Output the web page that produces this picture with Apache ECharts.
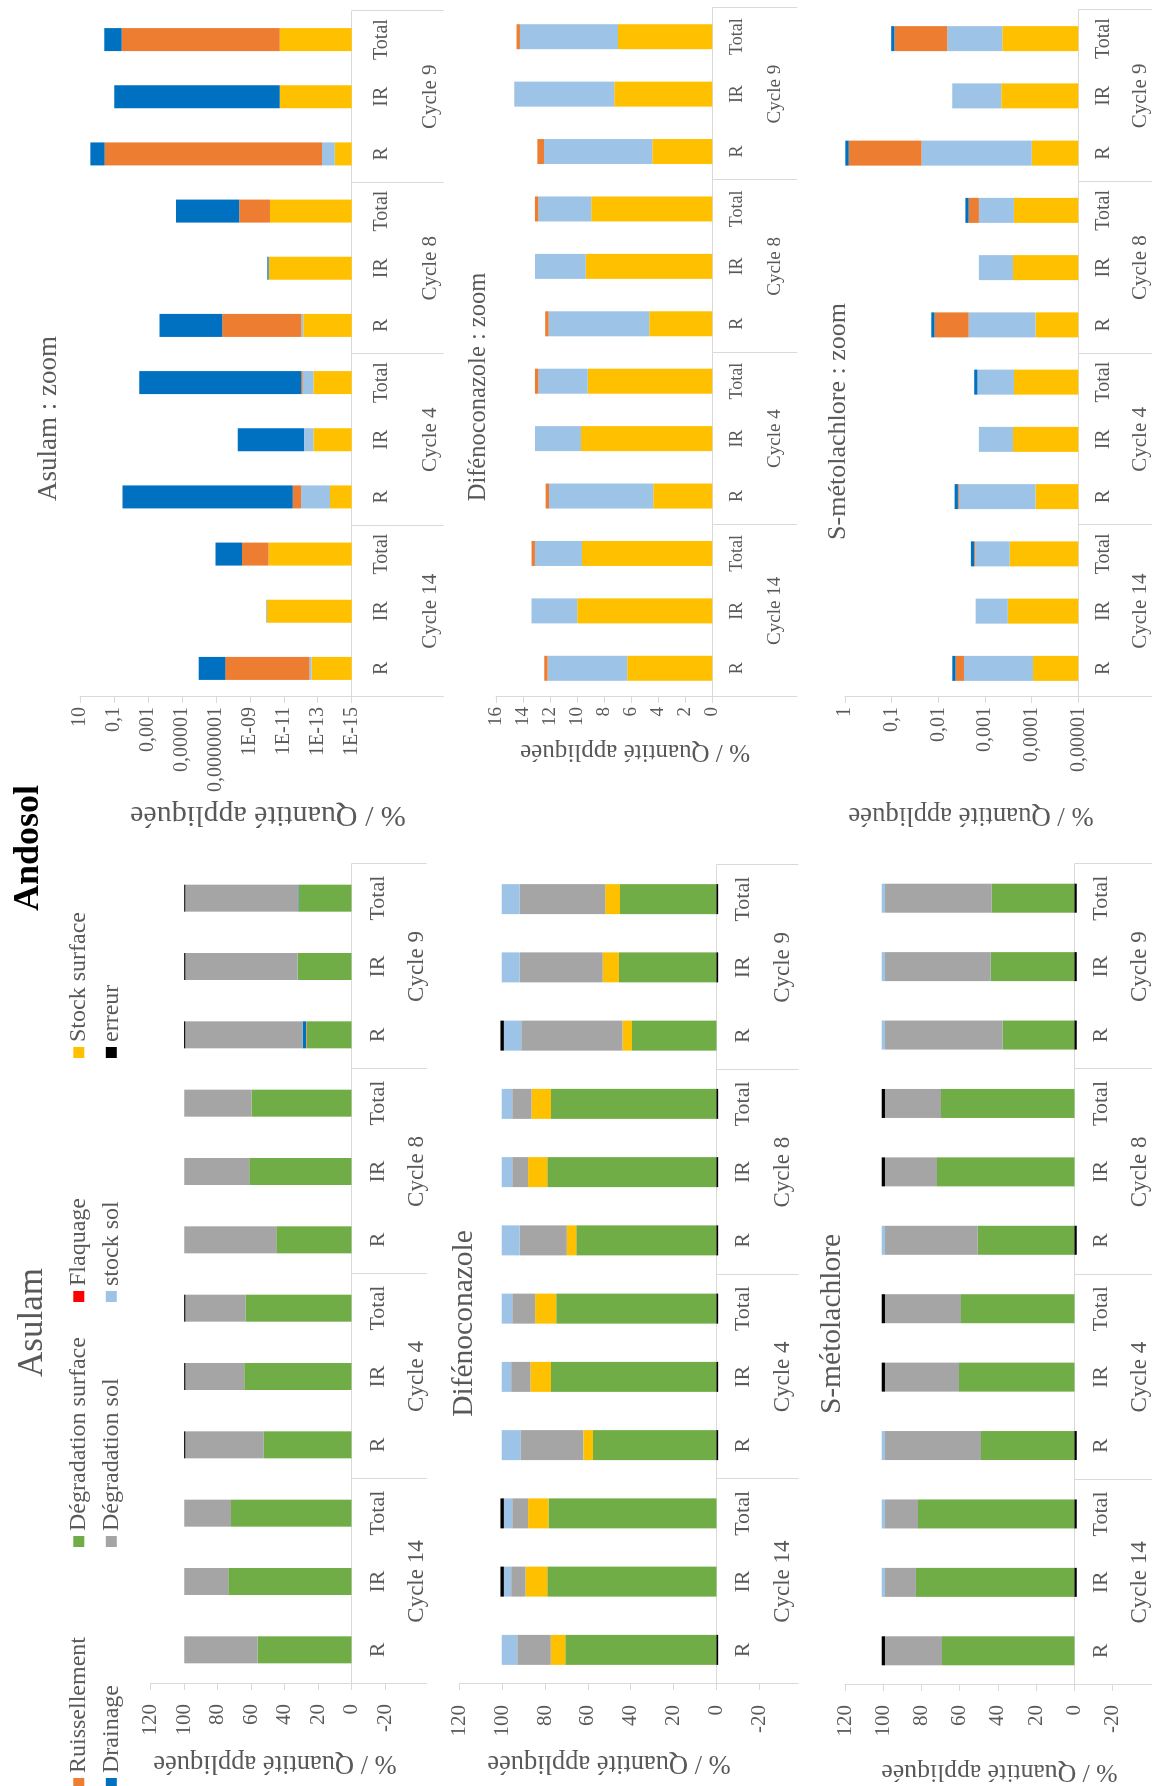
<!DOCTYPE html>
<html><head><meta charset="utf-8">
<script src="https://cdn.jsdelivr.net/npm/echarts@6/dist/echarts.min.js"></script>
<style>
html,body{margin:0;padding:0;background:#fff;overflow:hidden;width:1152px;height:1786px;}
#c{position:absolute;left:0;top:0;width:1786px;height:1152px;transform-origin:0 0;transform:translateY(1786px) rotate(-90deg);background:#fff;}
</style></head><body><div id="c"></div>
<script>
// ---------------- categories ----------------
const cycles = ['Cycle 14', 'Cycle 4', 'Cycle 8', 'Cycle 9'];
const runs = ['R', 'IR', 'Total'];
const seriesNames = ['Ruissellement', 'Drainage', 'Dégradation surface', 'Dégradation sol', 'Flaquage', 'stock sol', 'Stock surface', 'erreur'];

// ---------------- Asulam (% / quantité appliquée) ----------------
const asDegSurf   = [56.2, 73.6, 72.0, 52.4, 64.1, 63.3, 45.0, 61.1, 59.8, 26.8, 32.2, 31.4];
const asRuiss     = [0, 0, 0, 0, 0, 0, 0, 0, 0, 0.35, 0, 0.04];
const asDrain     = [0, 0, 0, 0.03, 0, 0, 0, 0, 0, 2.1, 0.1, 0.34];
const asStockSurf = [0, 0, 0, 0, 0, 0, 0, 0, 0, 0, 0, 0];
const asDegSol    = [43.8, 26.4, 28.0, 46.9, 35.2, 36.0, 55.0, 38.9, 40.2, 70.1, 67.0, 67.5];
const asFlaq      = [0, 0, 0, 0, 0, 0, 0, 0, 0, 0, 0, 0];
const asStockSol  = [0, 0, 0, 0, 0, 0, 0, 0, 0, 0, 0, 0];
const asErr       = [0, 0, 0, 0.7, 0.7, 0.7, 0, 0, 0, 0.7, 0.7, 0.7];

// ---------------- Difénoconazole ----------------
const dfDegSurf   = [70.5, 78.9, 78.4, 57.6, 77.2, 74.8, 65.4, 78.9, 77.2, 39.4, 45.5, 45.0];
const dfRuiss     = [0, 0, 0, 0, 0, 0, 0, 0, 0, 0, 0, 0];
const dfDrain     = [0, 0, 0, 0, 0, 0, 0, 0, 0, 0, 0, 0];
const dfStockSurf = [6.8, 10.2, 9.5, 4.5, 9.6, 9.8, 4.5, 9.0, 9.1, 4.4, 7.5, 6.9];
const dfDegSol    = [15.7, 6.7, 7.4, 29.2, 9.0, 10.7, 21.9, 7.4, 9.0, 47.3, 38.8, 39.9];
const dfFlaq      = [0, 0, 0, 0, 0, 0, 0, 0, 0, 0, 0, 0];
const dfStockSol  = [7.2, 3.4, 3.9, 8.9, 4.4, 4.9, 8.4, 4.9, 4.9, 8.1, 8.4, 8.4];
const dfErr       = [-0.8, 1.6, 1.6, -0.8, -0.8, -0.8, -0.8, -0.8, -0.8, 1.6, -0.8, -0.8];

// ---------------- S-métolachlore ----------------
const smDegSurf   = [69.3, 82.9, 81.8, 48.9, 60.4, 59.3, 50.6, 71.9, 69.8, 37.5, 43.8, 43.3];
const smRuiss     = [0, 0, 0, 0, 0, 0, 0, 0, 0, 0, 0, 0];
const smDrain     = [0, 0, 0, 0, 0, 0, 0, 0, 0, 0, 0, 0];
const smStockSurf = [0, 0, 0, 0, 0, 0, 0, 0, 0, 0, 0, 0];
const smDegSol    = [29.8, 16.2, 17.3, 50.2, 38.7, 39.8, 48.5, 27.2, 29.3, 61.6, 55.3, 55.8];
const smFlaq      = [0, 0, 0, 0, 0, 0, 0, 0, 0, 0, 0, 0];
const smStockSol  = [0, 1.7, 1.7, 1.7, 0, 0, 1.7, 0, 0, 1.7, 1.7, 1.7];
const smErr       = [1.7, -1.2, -1.2, -1.2, 1.7, 1.7, -1.2, 1.7, 1.7, -1.2, -1.2, -1.2];

// ---------------- Asulam : zoom (log scale, %) ----------------
const zAsStockSurf = [2.3e-13, 9.8e-11, 7.8e-11, 1.9e-14, 1.8e-13, 1.8e-13, 7.1e-13, 7.8e-11, 6.5e-11, 1.0e-14, 1.7e-11, 1.7e-11];
const zAsStockSol  = [8.0e-14, 1.4e-11, 0, 9.4e-13, 4.6e-13, 5.9e-13, 2.4e-13, 0, 0, 4.6e-14, 0, 0];
const zAsRuiss     = [2.75e-8, 0, 2.8e-9, 2.0e-12, 0, 1.8e-13, 4.2e-8, 0, 4.1e-9, 0.355, 0, 0.035];
const zAsDrain     = [9.96e-7, 0, 1.02e-7, 0.031, 5.1e-9, 3.2e-3, 2.1e-4, 1.5e-11, 2.2e-5, 2.1, 0.095, 0.337];
const asZoomTicks  = ['1E-15', '1E-13', '1E-11', '1E-09', '0,0000001', '0,00001', '0,001', '0,1', '10'];

// ---------------- Difénoconazole : zoom (linear, %) ----------------
const zDfStockSurf = [6.29, 9.99, 9.64, 4.36, 9.71, 9.22, 4.66, 9.37, 8.95, 4.44, 7.25, 6.98];
const zDfStockSol  = [5.89, 3.38, 3.48, 7.72, 3.40, 3.65, 7.45, 3.75, 3.92, 8.01, 7.40, 7.25];
const zDfRuiss     = [0.25, 0, 0.25, 0.25, 0, 0.25, 0.25, 0, 0.25, 0.49, 0, 0.25];
const dfZoomTicks  = ['0', '2', '4', '6', '8', '10', '12', '14', '16'];

// ---------------- S-métolachlore : zoom (log scale, %) ----------------
const zSmStockSurf = [9.3e-5, 3.24e-4, 2.95e-4, 8.3e-5, 2.51e-4, 2.40e-4, 8.3e-5, 2.51e-4, 2.40e-4, 1.0e-4, 4.47e-4, 4.27e-4];
const zSmStockSol  = [2.73e-3, 1.26e-3, 1.33e-3, 3.55e-3, 1.10e-3, 1.21e-3, 2.16e-3, 1.10e-3, 1.11e-3, 2.28e-2, 4.56e-3, 6.03e-3];
const zSmRuiss     = [1.45e-3, 0, 8e-5, 1.7e-4, 0, 0, 9.8e-3, 0, 8.9e-4, 0.809, 0, 8.06e-2];
const zSmDrain     = [7.4e-4, 0, 3.0e-4, 6.7e-4, 0, 2.5e-4, 2.1e-3, 0, 3.9e-4, 0.152, 0, 1.52e-2];
const smZoomTicks  = ['0,00001', '0,0001', '0,001', '0,01', '0,1', '1'];

const leftTicks = ['-20', '0', '20', '40', '60', '80', '100', '120'];

// ---------------- styles ----------------
const FONT = '"Liberation Serif", "Times New Roman", serif';
const TXT = '#595959';
const AXC = '#D9D9D9';
const COL = {
  'Ruissellement': '#ED7D31', 'Drainage': '#0070C0', 'Dégradation surface': '#70AD47',
  'Dégradation sol': '#A5A5A5', 'Flaquage': '#FF0000', 'stock sol': '#9DC3E6',
  'Stock surface': '#FFC000', 'erreur': '#000000'
};

// stacked on a log axis: heights expressed in decades above the axis minimum
function logStack(list, minExp) {
  const out = list.map(() => []);
  for (let j = 0; j < list[0].length; j++) {
    let cum = 0, prev = 0;
    list.forEach((arr, i) => {
      const v = arr[j];
      if (v > 0) {
        cum += v;
        const h = Math.log10(cum) - minExp;
        out[i].push(Math.max(0, h - prev));
        prev = Math.max(prev, h);
      } else out[i].push(0);
    });
  }
  return out;
}

const grids = [], xAxes = [], yAxes = [], series = [];
const categories = cycles.flatMap(() => runs);

function addPanel(p, stackList) {
  const gi = grids.length;
  grids.push({left: p.left, top: p.top, width: p.width, height: p.height, containLabel: false, outerBoundsMode: 'none'});
  const off = p.yMin < 0 ? -(p.height * (0 - p.yMin) / (p.yMax - p.yMin)) : 0;
  xAxes.push({type: 'category', gridIndex: gi, data: categories, position: 'bottom', offset: off, boundaryGap: true,
    axisLine: {show: true, onZero: false, lineStyle: {color: AXC, width: 1}}, axisTick: {show: false}, splitLine: {show: false},
    axisLabel: {interval: 0, margin: p.catMargin, color: TXT, fontFamily: FONT, fontSize: p.catFont}});
  xAxes.push({type: 'category', gridIndex: gi, data: cycles, position: 'bottom', offset: off, boundaryGap: true,
    axisLine: {show: false, onZero: false}, axisTick: {show: true, interval: 0, length: p.sepLen, lineStyle: {color: AXC, width: 1}},
    splitLine: {show: false},
    axisLabel: {interval: 0, margin: p.cycMargin, color: TXT, fontFamily: FONT, fontSize: p.cycFont}});
  yAxes.push({type: 'value', gridIndex: gi, min: p.yMin, max: p.yMax, interval: p.yInt, position: 'left',
    axisLine: {show: true, lineStyle: {color: AXC, width: 1}}, axisTick: {show: true, length: 6, lineStyle: {color: AXC}},
    splitLine: {show: false},
    axisLabel: {margin: p.valMargin, color: TXT, fontFamily: FONT, fontSize: p.valFont,
      formatter: (v) => p.ticks[Math.round((v - p.yMin) / p.yInt)]}});
  const xi = xAxes.length - 2, yi = yAxes.length - 1;
  stackList.forEach(([name, data]) => series.push({
    type: 'bar', name, xAxisIndex: xi, yAxisIndex: yi, stack: 'st' + gi, data,
    barWidth: p.barW, itemStyle: {color: COL[name]}, emphasis: {disabled: true}, silent: true
  }));
}

const leftStack = (d) => [
  ['Dégradation surface', d[0]], ['Ruissellement', d[1]], ['Drainage', d[2]], ['Stock surface', d[3]],
  ['Dégradation sol', d[4]], ['Flaquage', d[5]], ['stock sol', d[6]], ['erreur', d[7]]
];

// left column
addPanel({left: 102, top: 150.7, width: 820, height: 234.3, yMin: -20, yMax: 120, yInt: 20, ticks: leftTicks,
  barW: 27, catFont: 22, cycFont: 23, catMargin: 16, cycMargin: 54, sepLen: 75, valFont: 21, valMargin: 20},
  leftStack([asDegSurf, asRuiss, asDrain, asStockSurf, asDegSol, asFlaq, asStockSol, asErr]));
addPanel({left: 102, top: 459.3, width: 819, height: 300, yMin: -20, yMax: 120, yInt: 20, ticks: leftTicks,
  barW: 30, catFont: 22, cycFont: 23, catMargin: 16, cycMargin: 55, sepLen: 82, valFont: 21, valMargin: 21},
  leftStack([dfDegSurf, dfRuiss, dfDrain, dfStockSurf, dfDegSol, dfFlaq, dfStockSol, dfErr]));
addPanel({left: 101, top: 845, width: 821, height: 267.7, yMin: -20, yMax: 120, yInt: 20, ticks: leftTicks,
  barW: 29, catFont: 22, cycFont: 23, catMargin: 16, cycMargin: 54, sepLen: 78, valFont: 21, valMargin: 20},
  leftStack([smDegSurf, smRuiss, smDrain, smStockSurf, smDegSol, smFlaq, smStockSol, smErr]));

// right column (zoom)
const asZ = logStack([zAsStockSurf, zAsStockSol, zAsRuiss, zAsDrain], -15);
addPanel({left: 1089, top: 80, width: 686, height: 271.7, yMin: 0, yMax: 16, yInt: 2, ticks: asZoomTicks,
  barW: 23, catFont: 20, cycFont: 21, catMargin: 20, cycMargin: 68, sepLen: 92, valFont: 20, valMargin: 10},
  [['Stock surface', asZ[0]], ['stock sol', asZ[1]], ['Ruissellement', asZ[2]], ['Drainage', asZ[3]]]);
addPanel({left: 1089, top: 496, width: 689, height: 216.3, yMin: 0, yMax: 16, yInt: 2, ticks: dfZoomTicks,
  barW: 25, catFont: 18, cycFont: 19, catMargin: 16, cycMargin: 53, sepLen: 85, valFont: 19, valMargin: 10},
  [['Stock surface', zDfStockSurf], ['stock sol', zDfStockSol], ['Ruissellement', zDfRuiss]]);
const smZ = logStack([zSmStockSurf, zSmStockSol, zSmRuiss, zSmDrain], -5);
addPanel({left: 1089, top: 845, width: 687, height: 233.3, yMin: 0, yMax: 5, yInt: 1, ticks: smZoomTicks,
  barW: 25, catFont: 20, cycFont: 21, catMargin: 15, cycMargin: 52, sepLen: 74, valFont: 20, valMargin: 10},
  [['Stock surface', smZ[0]], ['stock sol', smZ[1]], ['Ruissellement', smZ[2]], ['Drainage', smZ[3]]]);

// legends (4 columns x 2 rows)
const legendCols = [[-3, ['Ruissellement', 'Drainage']], [239, ['Dégradation surface', 'Dégradation sol']],
  [484, ['Flaquage', 'stock sol']], [728, ['Stock surface', 'erreur']]];
const legends = legendCols.map(([left, names]) => ({
  left, top: 66.8, orient: 'vertical', data: names, icon: 'rect', itemWidth: 11, itemHeight: 11, itemGap: 8.5,
  padding: 0, selectedMode: false,
  textStyle: {fontFamily: FONT, fontSize: 24, color: TXT, lineHeight: 24}
}));

// texts
function txt(text, x, y, size, opts) {
  opts = opts || {};
  return {type: 'text', x, y, rotation: opts.rot || 0, silent: true,
    style: {text, font: (opts.bold ? 'bold ' : '') + size + 'px ' + FONT, fill: opts.color || TXT,
      align: 'center', verticalAlign: 'middle', textAlign: 'center', textVerticalAlign: 'middle'}};
}
const R90 = Math.PI / 2;
const graphics = [
  txt('Andosol', 938, 28.5, 36, {bold: true, color: '#000'}),
  txt('Asulam', 463.5, 33, 35),
  txt('Difénoconazole', 462.5, 464, 29.5),
  txt('S-métolachlore', 462, 832.5, 29.5),
  txt('Asulam : zoom', 1367.5, 49, 27),
  txt('Difénoconazole : zoom', 1399, 479, 24.5),
  txt('S-métolachlore : zoom', 1364.5, 838, 26),
  txt('% / Quantité appliquée', 23, 275, 26.5, {rot: R90}),
  txt('% / Quantité appliquée', 23, 609, 26.5, {rot: R90}),
  txt('% / Quantité appliquée', 14.5, 999.5, 25.7, {rot: R90}),
  txt('% / Quantité appliquée', 971, 268, 30, {rot: R90}),
  txt('% / Quantité appliquée', 1034, 635, 25, {rot: R90}),
  txt('% / Quantité appliquée', 971, 971, 26.7, {rot: R90})
];

const chart = echarts.init(document.getElementById('c'), null, {width: 1786, height: 1152, renderer: 'canvas'});
chart.setOption({
  animation: false,
  backgroundColor: '#ffffff',
  textStyle: {fontFamily: FONT},
  grid: grids, xAxis: xAxes, yAxis: yAxes, series,
  legend: legends,
  graphic: graphics
});
</script></body></html>
